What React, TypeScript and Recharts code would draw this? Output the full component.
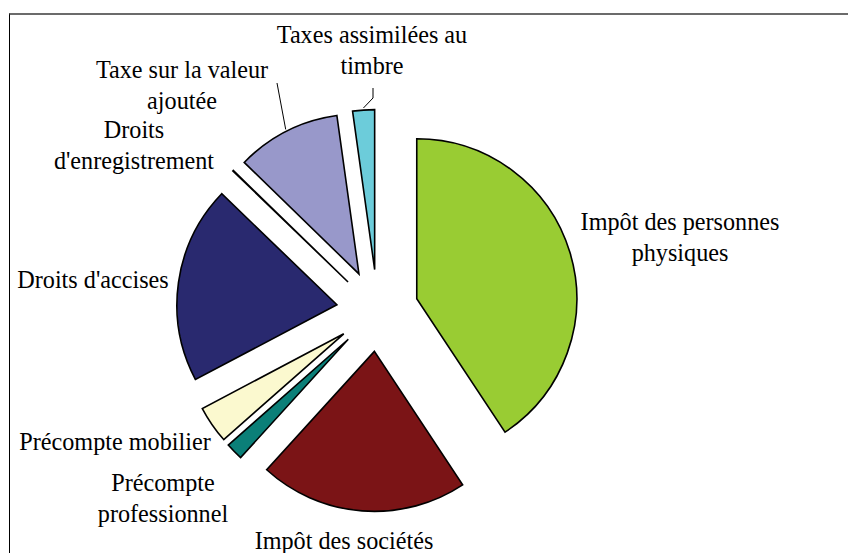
import React from "react";
import { PieChart, Pie, Cell, Sector } from "recharts";

const CATEGORIES = [
  "Impôt des personnes physiques",
  "Impôt des sociétés",
  "Précompte professionnel",
  "Précompte mobilier",
  "Droits d'accises",
  "Droits d'enregistrement",
  "Taxe sur la valeur ajoutée",
  "Taxes assimilées au timbre",
];
const SHARES = [40.6, 21.0, 1.75, 3.75, 19.9, 0.06, 10.5, 2.2];
const LABEL_LINES = [
  ["Impôt des personnes", "physiques"],
  ["Impôt des sociétés"],
  ["Précompte", "professionnel"],
  ["Précompte mobilier"],
  ["Droits d'accises"],
  ["Droits", "d'enregistrement"],
  ["Taxe sur la valeur", "ajoutée"],
  ["Taxes assimilées au", "timbre"],
];
const COLORS = ["#99CC33", "#7B1416", "#0B7F78", "#FBF9CF", "#29296F", "#FFFFFF", "#9898CA", "#6CCCDA"];

// label layout (offset of label centre from pie centre)
const LABEL_OFFSETS: [number, number][] = [
  [302.5, -74.5],
  [-33.5, 229],
  [-214.5, 187],
  [-262.5, 130.5],
  [-284.5, -31.5],
  [-243.5, -166.5],
  [-195.5, -226.5],
  [-5.5, -261.5],
];
// leader-line points relative to label centre
const LEADERS: Record<number, [number, number][]> = {
  6: [[95, -1]],
  7: [[1, 49], [1, 39]],
};

const data = CATEGORIES.map((name, i) => ({ name, value: SHARES[i] }));

const EXPLODE = 41;
const RADIUS = 160;
const CX = 377.5;
const CY = 310.5;
const RAD = Math.PI / 180;
const FONT = "'Liberation Serif', serif";
const FONT_SIZE = 24.2;
const LINE_GAP = 31;

const ExplodedSector = (props: any) => {
  const { cx, cy, midAngle } = props;
  const dx = EXPLODE * Math.cos(-midAngle * RAD);
  const dy = EXPLODE * Math.sin(-midAngle * RAD);
  return <Sector {...props} cx={cx + dx} cy={cy + dy} />;
};

const renderLabel = (props: any) => {
  const { cx, cy, midAngle, outerRadius, index } = props;
  const [ox, oy] = LABEL_OFFSETS[index];
  const lx = cx + ox;
  const ly = cy + oy;
  const lines = LABEL_LINES[index];
  const startY = ly - ((lines.length - 1) * LINE_GAP) / 2;
  const leader = LEADERS[index];
  let path: React.ReactNode = null;
  if (leader) {
    const ecx = cx + EXPLODE * Math.cos(-midAngle * RAD);
    const ecy = cy + EXPLODE * Math.sin(-midAngle * RAD);
    const sx = ecx + (outerRadius + 2) * Math.cos(-midAngle * RAD);
    const sy = ecy + (outerRadius + 2) * Math.sin(-midAngle * RAD);
    const pts = [[sx, sy], ...leader.map(([px, py]) => [lx + px, ly + py])];
    path = (
      <polyline
        points={pts.map((p) => p.join(",")).join(" ")}
        fill="none"
        stroke="#000"
        strokeWidth={1}
      />
    );
  }
  return (
    <g key={`lbl-${index}`}>
      {path}
      <text
        x={lx}
        y={startY}
        textAnchor="middle"
        dominantBaseline="central"
        fontFamily={FONT}
        fontSize={FONT_SIZE}
        fill="#000"
      >
        {lines.map((l, k) => (
          <tspan key={k} x={lx} y={startY + k * LINE_GAP}>
            {l}
          </tspan>
        ))}
      </text>
    </g>
  );
};

export default function App() {
  return (
    <div style={{ position: "absolute", left: 0, top: 0, width: 848, height: 553, overflow: "hidden", background: "#fff" }}>
      <div
        style={{
          position: "absolute",
          left: 9,
          top: 13,
          width: 850,
          height: 560,
          borderTop: "2px solid #6b6b6b",
          borderLeft: "1px solid #000",
          boxSizing: "border-box",
        }}
      />
      <div style={{ position: "absolute", left: 0, top: 0 }}>
        <PieChart width={848} height={553} margin={{ top: 0, right: 0, bottom: 0, left: 0 }}>
          <Pie
            data={data}
            dataKey="value"
            nameKey="name"
            cx={CX}
            cy={CY}
            outerRadius={RADIUS}
            innerRadius={0}
            startAngle={90}
            endAngle={-270}
            stroke="#000"
            strokeWidth={1.6}
            shape={ExplodedSector}
            activeShape={ExplodedSector}
            inactiveShape={ExplodedSector}
            label={renderLabel}
            labelLine={false}
            isAnimationActive={false}
          >
            {data.map((d, i) => (
              <Cell key={d.name} fill={COLORS[i]} />
            ))}
          </Pie>
        </PieChart>
      </div>
    </div>
  );
}
